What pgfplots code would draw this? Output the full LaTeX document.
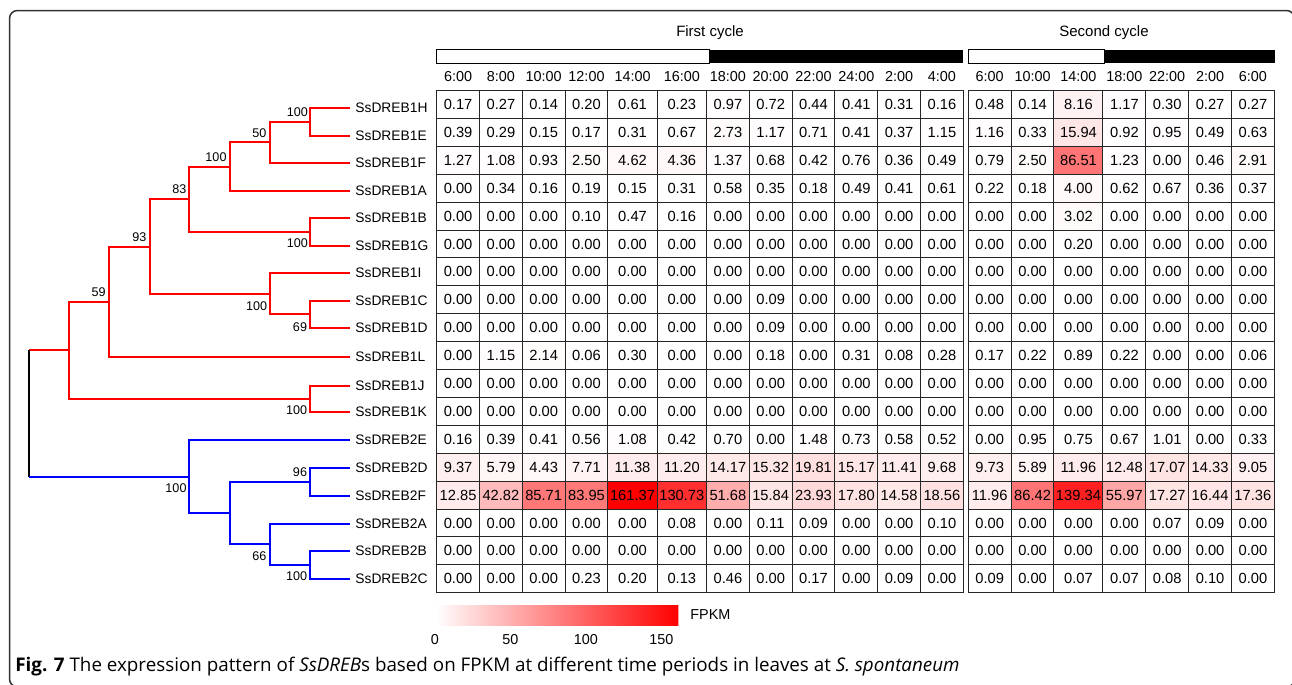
\documentclass[border=0pt]{standalone}
\usepackage{fontspec}
\setmainfont{Liberation Sans}
\newfontfamily\capfont{Open Sans}
\usepackage{pgfplots}
\usepackage{pgfplotstable}
\pgfplotsset{compat=1.18}

% First cycle: 6:00 8:00 10:00 12:00 14:00 16:00 18:00 20:00 22:00 24:00 2:00 4:00
\pgfplotstableread{
gene t1 t2 t3 t4 t5 t6 t7 t8 t9 t10 t11 t12
1H 0.17 0.27 0.14 0.20 0.61 0.23 0.97 0.72 0.44 0.41 0.31 0.16
1E 0.39 0.29 0.15 0.17 0.31 0.67 2.73 1.17 0.71 0.41 0.37 1.15
1F 1.27 1.08 0.93 2.50 4.62 4.36 1.37 0.68 0.42 0.76 0.36 0.49
1A 0.00 0.34 0.16 0.19 0.15 0.31 0.58 0.35 0.18 0.49 0.41 0.61
1B 0.00 0.00 0.00 0.10 0.47 0.16 0.00 0.00 0.00 0.00 0.00 0.00
1G 0.00 0.00 0.00 0.00 0.00 0.00 0.00 0.00 0.00 0.00 0.00 0.00
1I 0.00 0.00 0.00 0.00 0.00 0.00 0.00 0.00 0.00 0.00 0.00 0.00
1C 0.00 0.00 0.00 0.00 0.00 0.00 0.00 0.09 0.00 0.00 0.00 0.00
1D 0.00 0.00 0.00 0.00 0.00 0.00 0.00 0.09 0.00 0.00 0.00 0.00
1L 0.00 1.15 2.14 0.06 0.30 0.00 0.00 0.18 0.00 0.31 0.08 0.28
1J 0.00 0.00 0.00 0.00 0.00 0.00 0.00 0.00 0.00 0.00 0.00 0.00
1K 0.00 0.00 0.00 0.00 0.00 0.00 0.00 0.00 0.00 0.00 0.00 0.00
2E 0.16 0.39 0.41 0.56 1.08 0.42 0.70 0.00 1.48 0.73 0.58 0.52
2D 9.37 5.79 4.43 7.71 11.38 11.20 14.17 15.32 19.81 15.17 11.41 9.68
2F 12.85 42.82 85.71 83.95 161.37 130.73 51.68 15.84 23.93 17.80 14.58 18.56
2A 0.00 0.00 0.00 0.00 0.00 0.08 0.00 0.11 0.09 0.00 0.00 0.10
2B 0.00 0.00 0.00 0.00 0.00 0.00 0.00 0.00 0.00 0.00 0.00 0.00
2C 0.00 0.00 0.00 0.23 0.20 0.13 0.46 0.00 0.17 0.00 0.09 0.00
}\first

% Second cycle: 6:00 10:00 14:00 18:00 22:00 2:00 6:00
\pgfplotstableread{
gene s1 s2 s3 s4 s5 s6 s7
1H 0.48 0.14 8.16 1.17 0.30 0.27 0.27
1E 1.16 0.33 15.94 0.92 0.95 0.49 0.63
1F 0.79 2.50 86.51 1.23 0.00 0.46 2.91
1A 0.22 0.18 4.00 0.62 0.67 0.36 0.37
1B 0.00 0.00 3.02 0.00 0.00 0.00 0.00
1G 0.00 0.00 0.20 0.00 0.00 0.00 0.00
1I 0.00 0.00 0.00 0.00 0.00 0.00 0.00
1C 0.00 0.00 0.00 0.00 0.00 0.00 0.00
1D 0.00 0.00 0.00 0.00 0.00 0.00 0.00
1L 0.17 0.22 0.89 0.22 0.00 0.00 0.06
1J 0.00 0.00 0.00 0.00 0.00 0.00 0.00
1K 0.00 0.00 0.00 0.00 0.00 0.00 0.00
2E 0.00 0.95 0.75 0.67 1.01 0.00 0.33
2D 9.73 5.89 11.96 12.48 17.07 14.33 9.05
2F 11.96 86.42 139.34 55.97 17.27 16.44 17.36
2A 0.00 0.00 0.00 0.00 0.07 0.09 0.00
2B 0.00 0.00 0.00 0.00 0.00 0.00 0.00
2C 0.09 0.00 0.07 0.07 0.08 0.10 0.00
}\second

% #1 table, #2 column, #3 x centre (px), #4 horizontal scale of the cell
\newcommand\hcol[4]{\addplot[scatter, only marks, mark=square*, mark size=6.975pt,
    point meta=explicit,
    scatter/use mapped color={draw=black!85, fill=mapped color, line width=0.5pt, xscale=#4}]
  table[x expr=#3, y expr={104.45+27.9*\coordindex}, meta=#2]{#1};}
\newcommand\hval[3]{\addplot[only marks, mark=none, point meta=explicit,
    nodes near coords={\pgfmathprintnumber[fixed,fixed zerofill,precision=2,assume math mode=true]{\pgfplotspointmeta}},
    every node near coord/.append style={anchor=center, text=black, inner sep=0pt,
      font=\fontsize{7.35}{8}\selectfont}]
  table[x expr=#3, y expr={104.45+27.9*\coordindex}, meta=#2]{#1};}
\newcommand\br[2][red]{\addplot[#1, line width=1pt, mark=none, line join=miter] coordinates {#2};}
\newcommand\gl[2]{\node[anchor=west, inner sep=0pt, font=\fontsize{6.9}{8}\selectfont] at (axis cs:355,#1) {#2};}
\newcommand\bs[3]{\node[inner sep=0pt, font=\fontsize{6.3}{7}\selectfont] at (axis cs:#1,#2) {#3};}
\newcommand\tl[2]{\node[inner sep=0pt, font=\fontsize{7.2}{8}\selectfont] at (axis cs:#1,77) {#2};}

\begin{document}
\begin{tikzpicture}[x=0.5pt,y=-0.5pt]
\useasboundingbox (0,0) rectangle (1292,685);
\draw[line width=0.75pt, black!80, rounded corners=4pt] (9.5,10.5) rectangle (1294.5,687);
\begin{axis}[at={(0pt,-342.5pt)}, anchor=south west,
  x=0.5pt, y=0.5pt, y dir=reverse,
  xmin=0, xmax=1292, ymin=0, ymax=685,
  hide axis, clip=false,
  colormap={wr}{rgb255=(255,255,255) rgb255=(255,0,0)},
  point meta min=0, point meta max=161.37]

% ---------- dendrogram ----------
\br{(350,108) (310,108) (310,136) (350,136)}
\br{(310,122) (270,122) (270,163) (350,163)}
\br{(270,142) (230,142) (230,191) (350,191)}
\br{(350,218) (310,218) (310,246) (350,246)}
\br{(230,167) (189,167) (189,232) (310,232)}
\br{(350,301) (310,301) (310,328) (350,328)}
\br{(350,273) (270,273) (270,314) (310,314)}
\br{(189,199) (150,199) (150,294) (270,294)}
\br{(150,247) (109,247) (109,357) (350,357)}
\br{(350,386) (310,386) (310,412) (350,412)}
\br{(109,302) (69,302) (69,399) (310,399)}
\br{(69,350) (29,350)}
\br[black]{(29,350) (29,477)}
\br[blue]{(350,468) (310,468) (310,496) (350,496)}
\br[blue]{(350,551) (310,551) (310,579) (350,579)}
\br[blue]{(350,524) (270,524) (270,565) (310,565)}
\br[blue]{(310,482) (230,482) (230,544) (270,544)}
\br[blue]{(350,440) (189,440) (189,513) (230,513)}
\br[blue]{(189,477) (29,477)}

\bs{297.3}{111.7}{100}
\bs{259.3}{132.7}{50}
\bs{216}{156.7}{100}
\bs{179.3}{189.3}{83}
\bs{297.3}{243.3}{100}
\bs{139.3}{236.7}{93}
\bs{256.7}{306}{100}
\bs{300}{327.3}{69}
\bs{98.7}{291.7}{59}
\bs{296.7}{410}{100}
\bs{176}{488.3}{100}
\bs{300}{471.7}{96}
\bs{259.3}{556}{66}
\bs{296.7}{576}{100}

\gl{108}{SsDREB1H}
\gl{136}{SsDREB1E}
\gl{163}{SsDREB1F}
\gl{191}{SsDREB1A}
\gl{218}{SsDREB1B}
\gl{246}{SsDREB1G}
\gl{273}{SsDREB1I}
\gl{301}{SsDREB1C}
\gl{328}{SsDREB1D}
\gl{357}{SsDREB1L}
\gl{386}{SsDREB1J}
\gl{412}{SsDREB1K}
\gl{440}{SsDREB2E}
\gl{468}{SsDREB2D}
\gl{496}{SsDREB2F}
\gl{524}{SsDREB2A}
\gl{551}{SsDREB2B}
\gl{579}{SsDREB2C}

% ---------- heat maps: cells ----------
\hcol{\first}{t1}{458.1}{1.534}
\hcol{\first}{t2}{500.9}{1.534}
\hcol{\first}{t3}{543.7}{1.534}
\hcol{\first}{t4}{586.5}{1.534}
\hcol{\first}{t5}{632.55}{1.767}
\hcol{\first}{t6}{681.85}{1.767}
\hcol{\first}{t7}{727.9}{1.534}
\hcol{\first}{t8}{770.7}{1.534}
\hcol{\first}{t9}{813.5}{1.534}
\hcol{\first}{t10}{856.3}{1.534}
\hcol{\first}{t11}{899.1}{1.534}
\hcol{\first}{t12}{941.9}{1.534}
\hcol{\second}{s1}{989.72}{1.535}
\hcol{\second}{s2}{1032.55}{1.535}
\hcol{\second}{s3}{1078.47}{1.756}
\hcol{\second}{s4}{1124.38}{1.535}
\hcol{\second}{s5}{1167.22}{1.535}
\hcol{\second}{s6}{1210.05}{1.535}
\hcol{\second}{s7}{1252.88}{1.535}
% ---------- heat maps: values ----------
\hval{\first}{t1}{458.1}
\hval{\first}{t2}{500.9}
\hval{\first}{t3}{543.7}
\hval{\first}{t4}{586.5}
\hval{\first}{t5}{632.55}
\hval{\first}{t6}{681.85}
\hval{\first}{t7}{727.9}
\hval{\first}{t8}{770.7}
\hval{\first}{t9}{813.5}
\hval{\first}{t10}{856.3}
\hval{\first}{t11}{899.1}
\hval{\first}{t12}{941.9}
\hval{\second}{s1}{989.72}
\hval{\second}{s2}{1032.55}
\hval{\second}{s3}{1078.47}
\hval{\second}{s4}{1124.38}
\hval{\second}{s5}{1167.22}
\hval{\second}{s6}{1210.05}
\hval{\second}{s7}{1252.88}

% time labels
\tl{458.1}{6:00}\tl{500.9}{8:00}\tl{543.7}{10:00}\tl{586.5}{12:00}
\tl{632.55}{14:00}\tl{681.85}{16:00}\tl{727.9}{18:00}\tl{770.7}{20:00}
\tl{813.5}{22:00}\tl{856.3}{24:00}\tl{899.1}{2:00}\tl{941.9}{4:00}
\tl{989.72}{6:00}\tl{1032.55}{10:00}\tl{1078.47}{14:00}\tl{1124.38}{18:00}
\tl{1167.22}{22:00}\tl{1210.05}{2:00}\tl{1252.88}{6:00}

% light / dark bars
\draw[line width=0.5pt, fill=white] (axis cs:436.7,49.5) rectangle (axis cs:709,63.3);
\fill[black] (axis cs:709,49.5) rectangle (axis cs:962.5,63.3);
\draw[line width=0.5pt, fill=white] (axis cs:968.3,49.5) rectangle (axis cs:1104,63.3);
\fill[black] (axis cs:1104,49.5) rectangle (axis cs:1275,63.3);

\node[font=\fontsize{7.5}{9}\selectfont] at (axis cs:710,33) {First cycle};
\node[font=\fontsize{7.5}{9}\selectfont] at (axis cs:1104,33) {Second cycle};

\node[anchor=west, inner sep=0pt, font=\fontsize{7.2}{8}\selectfont] at (axis cs:690,614.5) {FPKM};

\node[anchor=base west, inner sep=0pt, font=\capfont\fontsize{9.4}{11}\selectfont] at (axis cs:15,671)
  {\textbf{Fig. 7} The expression pattern of \textit{SsDREB}s based on FPKM at different time periods in leaves at \textit{S. spontaneum}};
\end{axis}

% ---------- colour bar ----------
\begin{axis}[at={(217.5pt,-302.5pt)}, anchor=north west,
  scale only axis, width=121.75pt, height=10pt,
  xmin=0, xmax=1, ymin=0, ymax=1, axis lines=none, xtick=\empty, ytick=\empty,
  colormap={wr}{rgb255=(255,255,255) rgb255=(255,0,0)},
  point meta min=0, point meta max=161.37,
  colorbar horizontal,
  colorbar style={at={(0,1)}, anchor=north west, scale only axis,
    width=121.75pt, height=10pt,
    xtick={0,50,100,150}, axis line style={draw=none}, tick style={draw=none},
    major tick length=0pt,
    xticklabel style={font=\fontsize{7.2}{8}\selectfont, yshift=-1pt},
    /pgf/number format/assume math mode=true}]
\addplot[draw=none, forget plot] coordinates {(0,0)};
\end{axis}
\end{tikzpicture}
\end{document}
